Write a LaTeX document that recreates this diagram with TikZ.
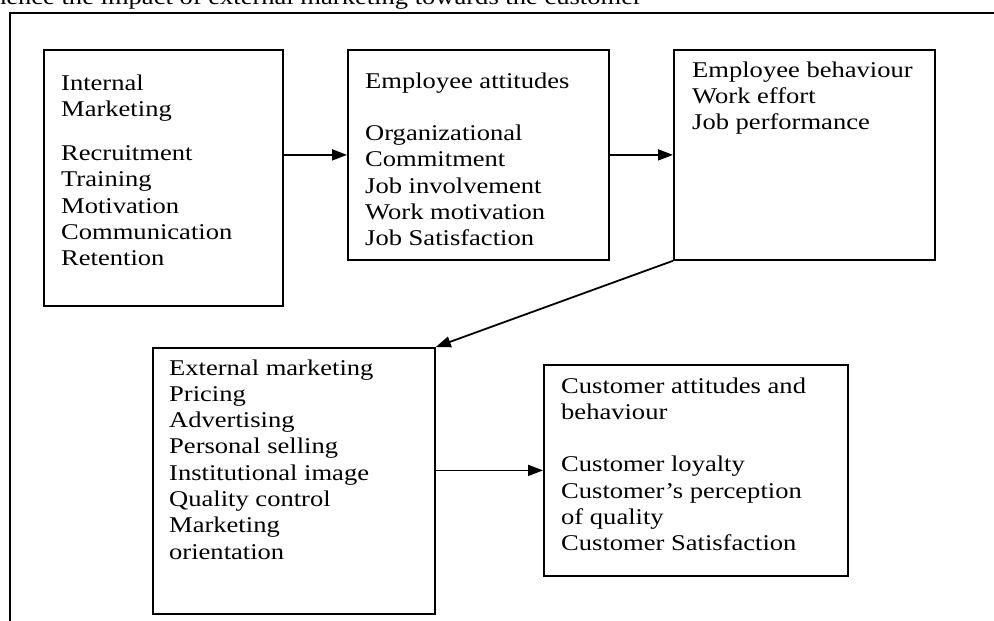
\documentclass[tikz,border=0pt]{standalone}
\usepackage{fontspec}
\setmainfont[FakeStretch=1.18]{Liberation Serif}
\usetikzlibrary{arrows.meta}
\begin{document}
\begin{tikzpicture}[x=1pt,y=-1pt,
  box/.style={draw, line width=1.8pt, rectangle, inner sep=0, anchor=north west},
  lbl/.style={anchor=base west, inner sep=0, font=\fontsize{22.5}{26.3}\selectfont},
  arr/.style={line width=1.8pt, -{Triangle[length=15pt,width=11pt]}}]
\useasboundingbox (0,0) rectangle (994,621);
\clip (0,0) rectangle (994,621);
% title (cut off at top, as in the reference)
\node[anchor=base east, inner sep=0, font=\fontsize{22.5}{26.3}\selectfont] (title) at (642,5) {hence the impact of external marketing towards the customer};
% outer frame
\draw[line width=2pt] (10,625) -- (10,13) -- (998,13);
% boxes
\node[box, minimum width=239pt, minimum height=256pt] (b1) at (43,49) {};
\node[box, minimum width=261pt, minimum height=210pt] (b2) at (347,49) {};
\node[box, minimum width=261pt, minimum height=210pt] (b3) at (673,49) {};
\node[box, minimum width=282pt, minimum height=266pt] (b4) at (152,347) {};
\node[box, minimum width=304pt, minimum height=211pt] (b5) at (543,364) {};
% texts
\node[lbl] (t1) at (61,90) {\begin{tabular}[t]{@{}l@{}}Internal\\Marketing\\[18pt]Recruitment\\Training\\Motivation\\Communication\\Retention\end{tabular}};
\node[lbl] (t2) at (365,88) {\begin{tabular}[t]{@{}l@{}}Employee attitudes\\ \\Organizational\\Commitment\\Job involvement\\Work motivation\\Job Satisfaction\end{tabular}};
\node[lbl] (t3) at (692,77) {\begin{tabular}[t]{@{}l@{}}Employee behaviour\\Work effort\\Job performance\end{tabular}};
\node[lbl] (t4) at (169,375) {\begin{tabular}[t]{@{}l@{}}External marketing\\Pricing\\Advertising\\Personal selling\\Institutional image\\Quality control\\Marketing\\orientation\end{tabular}};
\node[lbl] (t5) at (561,393) {\begin{tabular}[t]{@{}l@{}}Customer attitudes and\\behaviour\\ \\Customer loyalty\\Customer’s perception\\of quality\\Customer Satisfaction\end{tabular}};
% connectors
\draw[arr] (b1.east |- b2.west) -- (b2.west);
\draw[arr] (b2.east) -- (b3.west);
\draw[arr] (b3.south west) -- (b4.north east);
\draw[arr] (b4.east |- b5.west) -- (b5.west);
\end{tikzpicture}
\end{document}
